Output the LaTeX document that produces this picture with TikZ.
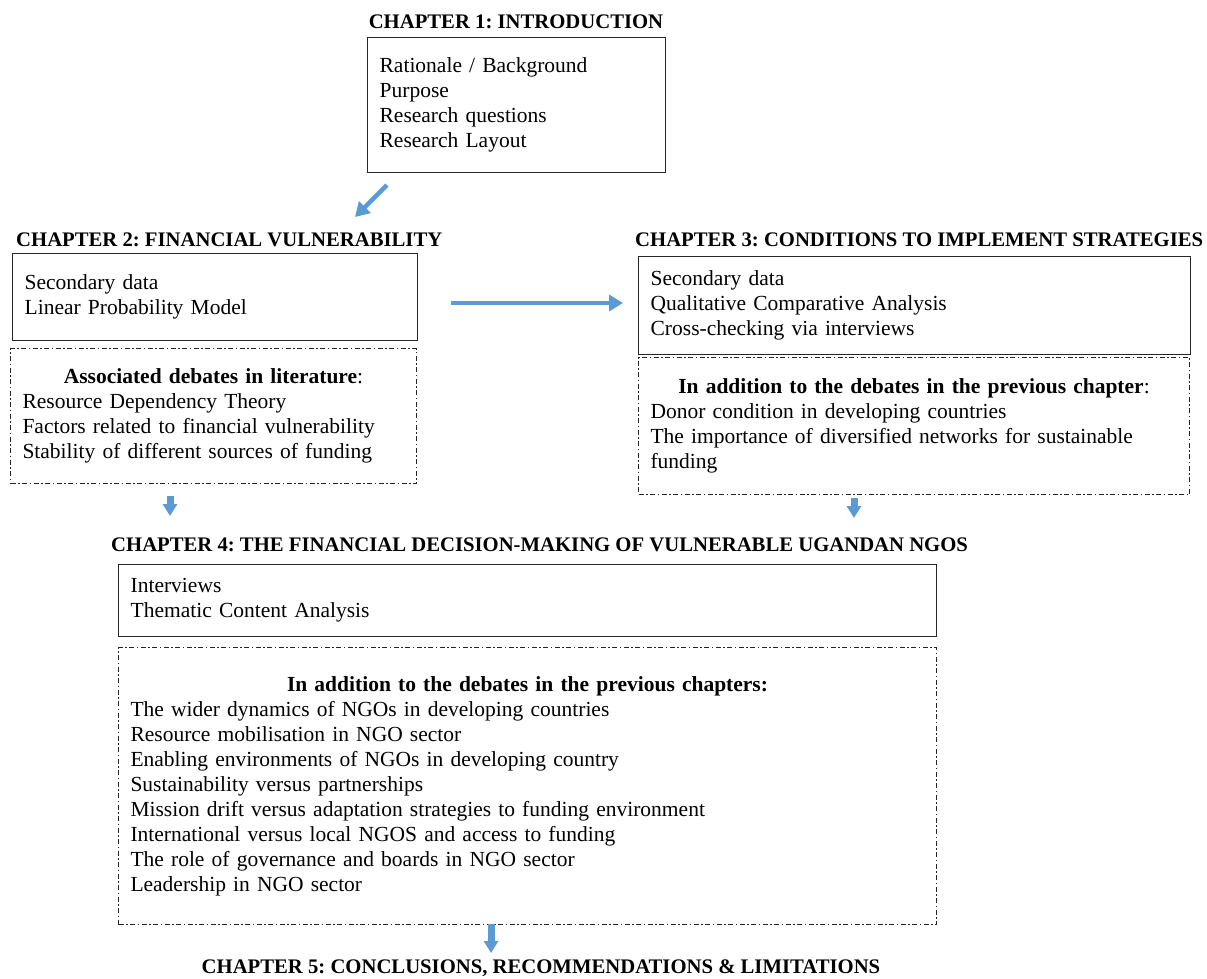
\documentclass[tikz,border=0pt]{standalone}
\usepackage{fontspec}
\setmainfont{Liberation Serif}
\usetikzlibrary{arrows.meta}
\definecolor{arrowblue}{RGB}{91,155,213}
\frenchspacing
\tikzstyle{chapter}=[font=\fontsize{20.7}{24}\selectfont\bfseries, inner sep=0pt]
\tikzstyle{box}=[draw=black!85, line width=1.3pt, anchor=north west, align=left, inner xsep=12pt, inner ysep=0pt, font=\fontsize{21.5}{25}\selectfont]
\tikzstyle{debate}=[box, line width=1pt, dash pattern=on 5pt off 2.5pt on 1.5pt off 2.5pt]
\tikzstyle{arrow}=[arrowblue, line width=4.5pt, -{Triangle[length=14pt,width=16pt]}]
\tikzstyle{downarrow}=[arrowblue, line width=7pt, -{Triangle[length=12pt,width=14pt]}]

\begin{document}
\begin{tikzpicture}[x=1pt, y=-1pt]
\useasboundingbox (0,0) rectangle (1207,978);
% chapter 1
\node[chapter] at (516, 22) (t1) {CHAPTER 1: INTRODUCTION};
\node[box, text width=274pt, minimum height=135pt] at (367, 37) (b1) {Rationale / Background\\ Purpose\\ Research questions\\ Research Layout};
% chapter 2
\node[chapter, anchor=west] at (16, 240) (t2) {CHAPTER 2: FINANCIAL VULNERABILITY};
\node[box, text width=381pt, minimum height=87pt] at (12, 253) (b2) {Secondary data\\ Linear Probability Model};
\node[debate, text width=382pt, minimum height=135pt] at (10, 348) (d2) {{\centering\textbf{Associated debates in literature}:\par}\noindent Resource Dependency Theory\\ Factors related to financial vulnerability\\ Stability of different sources of funding};
% chapter 3
\node[chapter, anchor=west] at (635, 240) (t3) {CHAPTER 3: CONDITIONS TO IMPLEMENT STRATEGIES};
\node[box, text width=528pt, minimum height=98pt] at (638, 256) (b3) {Secondary data\\ Qualitative Comparative Analysis\\ Cross-checking via interviews};
\node[debate, text width=527pt, minimum height=137pt] at (638, 357) (d3) {{\centering\textbf{In addition to the debates in the previous chapter}:\par}\noindent Donor condition in developing countries\\ The importance of diversified networks for sustainable\\ funding};
% chapter 4
\node[chapter, anchor=west] at (111, 545) (t4) {CHAPTER 4: THE FINANCIAL DECISION-MAKING OF VULNERABLE UGANDAN NGOS};
\node[box, text width=794pt, minimum height=72pt] at (118, 564) (b4) {Interviews\\ Thematic Content Analysis};
\node[debate, text width=794pt, minimum height=277pt] at (118, 647) (d4) {{\centering\textbf{In addition to the debates in the previous chapters:}\par}\noindent The wider dynamics of NGOs in developing countries\\ Resource mobilisation in NGO sector\\ Enabling environments of NGOs in developing country\\ Sustainability versus partnerships\\ Mission drift versus adaptation strategies to funding environment\\ International versus local NGOS and access to funding\\ The role of governance and boards in NGO sector\\ Leadership in NGO sector};
% chapter 5
\node[chapter] at (541, 968) (t5) {CHAPTER 5: CONCLUSIONS, RECOMMENDATIONS \& LIMITATIONS};
% arrows
\coordinate (c1) at (387, 185);
\coordinate (c2) at (355, 217);
\coordinate (h1) at (451, 303);
\coordinate (h2) at (623, 303);
\coordinate (v2a) at (170, 496);
\coordinate (v2b) at (170, 516);
\coordinate (v3a) at (854, 498);
\coordinate (v3b) at (854, 518);
\coordinate (v4a) at (491, 924);
\coordinate (v4b) at (491, 953);
\draw[arrow] (c1) -- (c2);
\draw[arrow] (h1) -- (h2);
\draw[downarrow] (v2a) -- (v2b);
\draw[downarrow] (v3a) -- (v3b);
\draw[downarrow] (v4a) -- (v4b);
\end{tikzpicture}
\end{document}
